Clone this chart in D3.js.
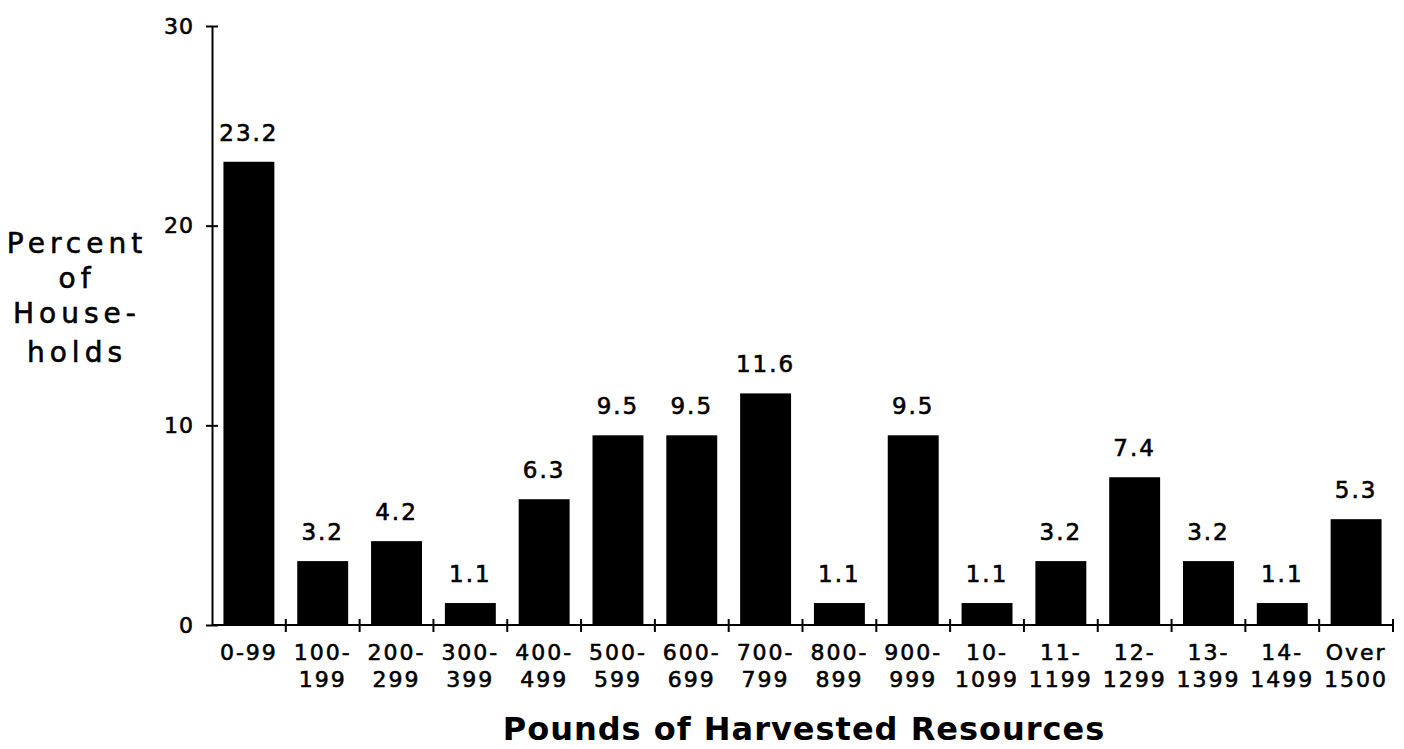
<!DOCTYPE html>
<html>
<head>
<meta charset="utf-8">
<script src="https://cdn.jsdelivr.net/npm/d3@7"></script>
<style>
  body { margin: 0; background: #fff; }
  svg { display: block; font-family: "DejaVu Sans", sans-serif; }
  .heavy { stroke: #000; stroke-width: 0.6px; }
</style>
</head>
<body>
<svg id="chart" width="1404" height="749"></svg>
<script>
// data
var categories = ["0-99", "100-199", "200-299", "300-399", "400-499", "500-599", "600-699", "700-799",
                  "800-899", "900-999", "1000-1099", "1100-1199", "1200-1299", "1300-1399", "1400-1499", "Over 1500"];
var percents = [23.2, 3.2, 4.2, 1.1, 6.3, 9.5, 9.5, 11.6, 1.1, 9.5, 1.1, 3.2, 7.4, 3.2, 1.1, 5.3];
var labelTop = ["0-99", "100-", "200-", "300-", "400-", "500-", "600-", "700-",
                "800-", "900-", "10-", "11-", "12-", "13-", "14-", "Over"];
var labelBottom = ["", "199", "299", "399", "499", "599", "699", "799",
                   "899", "999", "1099", "1199", "1299", "1399", "1499", "1500"];
var yTicks = [0, 10, 20, 30];
var yLabelLines = ["Percent", "of", "House-", "holds"];
var xTitle = "Pounds of Harvested Resources";

function drawChart() {
    var svg = d3.select("#chart"),
        left = 212, right = 1393, top = 26, bottom = 625;

    var x = d3.scaleBand()
        .domain(categories)
        .range([left, right])
        .paddingInner(0.31)
        .paddingOuter(0.155);

    var y = d3.scaleLinear().domain([0, 30]).range([bottom, top]);

    var data = categories.map(function(c, i) {
        return {cat: c, value: percents[i], top: labelTop[i], bottom: labelBottom[i]};
    });

    // bars
    svg.selectAll(".bar")
        .data(data)
        .enter().append("rect")
        .attr("class", "bar")
        .attr("x", function(d) { return x(d.cat); })
        .attr("width", x.bandwidth())
        .attr("y", function(d) { return y(d.value); })
        .attr("height", function(d) { return y(0) - y(d.value); })
        .attr("fill", "#000");

    // value labels
    svg.selectAll(".val")
        .data(data)
        .enter().append("text")
        .attr("class", "val heavy")
        .attr("x", function(d) { return x(d.cat) + x.bandwidth() / 2; })
        .attr("y", function(d) { return y(d.value) - 21; })
        .attr("text-anchor", "middle")
        .style("font-size", "23px")
        .style("letter-spacing", "2px")
        .text(function(d) { return d.value.toFixed(1); });

    // y axis
    var yAxis = svg.append("g")
        .attr("transform", "translate(" + left + ",0)")
        .call(d3.axisLeft(y).tickValues(yTicks).tickSize(6).tickSizeOuter(0));
    yAxis.select(".domain").attr("stroke-width", 2);
    yAxis.selectAll(".tick line").attr("x2", 6).attr("x1", -6).attr("stroke-width", 2);
    yAxis.selectAll(".tick text")
        .attr("class", "heavy")
        .attr("x", -18)
        .style("font-size", "22px")
        .style("font-family", "DejaVu Sans")
        .style("letter-spacing", "1px");

    // x axis line with ticks at band boundaries
    var step = x.step(), gap = step - x.bandwidth();
    var bounds = categories.map(function(c) { return x(c) - gap / 2; });
    bounds.push(x.range()[1]);

    var xAxis = svg.append("g");
    xAxis.append("line")
        .attr("x1", left).attr("x2", right)
        .attr("y1", y(0)).attr("y2", y(0))
        .attr("stroke", "#000").attr("stroke-width", 2);
    xAxis.selectAll(".xt")
        .data(bounds.slice(1))
        .enter().append("line")
        .attr("class", "xt")
        .attr("x1", function(d) { return d; }).attr("x2", function(d) { return d; })
        .attr("y1", y(0) - 6).attr("y2", y(0) + 7)
        .attr("stroke", "#000").attr("stroke-width", 2);

    // category labels, two lines
    var lab = svg.selectAll(".xlab")
        .data(data)
        .enter().append("text")
        .attr("class", "xlab heavy")
        .attr("text-anchor", "middle")
        .style("font-size", "22px")
        .style("letter-spacing", "2px");
    lab.append("tspan")
        .attr("x", function(d) { return x(d.cat) + x.bandwidth() / 2; })
        .attr("y", 660)
        .text(function(d) { return d.top; });
    lab.append("tspan")
        .attr("x", function(d) { return x(d.cat) + x.bandwidth() / 2; })
        .attr("y", 687)
        .text(function(d) { return d.bottom; });

    // axis titles
    svg.append("text")
        .attr("x", 804)
        .attr("y", 740)
        .attr("text-anchor", "middle")
        .style("font-size", "32px")
        .style("font-weight", "bold")
        .style("letter-spacing", "1px")
        .text(xTitle);

    var yBase = [253, 288, 323, 362];
    svg.selectAll(".ylab")
        .data(yLabelLines)
        .enter().append("text")
        .attr("class", "ylab heavy")
        .attr("x", 77)
        .attr("y", function(d, i) { return yBase[i]; })
        .attr("text-anchor", "middle")
        .style("font-size", "28px")
        .style("letter-spacing", "5px")
        .text(function(d) { return d; });
}

drawChart();
</script>
</body>
</html>
